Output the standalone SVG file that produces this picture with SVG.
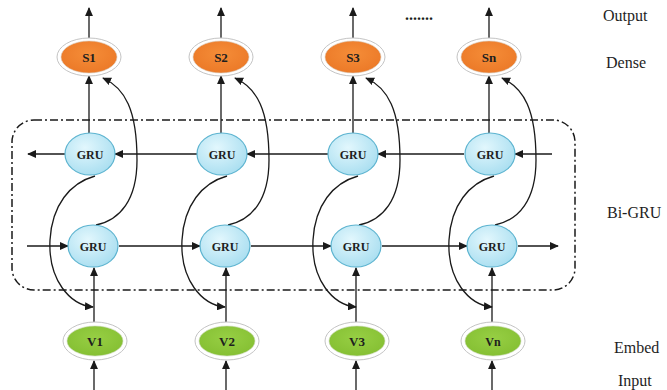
<svg xmlns="http://www.w3.org/2000/svg" width="667" height="390" viewBox="0 0 667 390">
  <defs>
    <marker id="ah" viewBox="0 0 10 10" refX="9" refY="5" markerWidth="9" markerHeight="8" markerUnits="userSpaceOnUse" orient="auto" preserveAspectRatio="none">
      <path d="M0,0 L10,5 L0,10 z" fill="#1a1a1a"/>
    </marker>
    <radialGradient id="gBlue" cx="0.4" cy="0.35" r="0.75">
      <stop offset="0" stop-color="#e2f7fd"/>
      <stop offset="1" stop-color="#a4dcef"/>
    </radialGradient>
    <radialGradient id="gOrange" cx="0.5" cy="0.4" r="0.7">
      <stop offset="0" stop-color="#f58d38"/>
      <stop offset="1" stop-color="#ea7625"/>
    </radialGradient>
    <radialGradient id="gGreen" cx="0.5" cy="0.4" r="0.7">
      <stop offset="0" stop-color="#97cf44"/>
      <stop offset="1" stop-color="#82bd30"/>
    </radialGradient>
  </defs>
  <style>
    .ln { stroke: #1a1a1a; stroke-width: 1.3; fill: none; }
    .arr { marker-end: url(#ah); }
    .halo { fill: #ffffff; stroke: #c4c4c4; stroke-width: 1; }
    .dense { fill: url(#gOrange); stroke: #d9c9b8; stroke-width: 0.6; }
    .embed { fill: url(#gGreen); stroke: #c9d6b5; stroke-width: 0.6; }
    .gru { fill: url(#gBlue); stroke: #5db4d0; stroke-width: 1.2; }
    .nt { font-family: "Liberation Serif", "Times New Roman", serif; font-weight: bold; fill: #1e1e1e; text-anchor: middle; }
    .side { font-family: "Liberation Serif", "Times New Roman", serif; font-size: 16px; fill: #1e1e1e; }
    .frame { fill: none; stroke: #1a1a1a; stroke-width: 1.5; stroke-dasharray: 8 3 2 3; }
  </style>

  <rect width="667" height="390" fill="#ffffff"/>

  <!-- Bi-GRU layer boundary -->
  <rect class="frame" x="12" y="120" width="563" height="170" rx="22" ry="22"/>

  <g id="connectors">
    <!-- outputs -->
    <line class="ln arr" x1="89" y1="38" x2="89" y2="8"/>
    <line class="ln arr" x1="221" y1="38" x2="221" y2="8"/>
    <line class="ln arr" x1="353" y1="38" x2="353" y2="8"/>
    <line class="ln arr" x1="489" y1="38" x2="489" y2="8"/>
    <!-- backward GRU to dense -->
    <line class="ln arr" x1="89" y1="133" x2="89" y2="76"/>
    <line class="ln arr" x1="221" y1="133" x2="221" y2="76"/>
    <line class="ln arr" x1="353" y1="133" x2="353" y2="76"/>
    <line class="ln arr" x1="489" y1="133" x2="489" y2="76"/>
    <!-- backward chain (right to left) -->
    <line class="ln arr" x1="65" y1="154" x2="28" y2="154"/>
    <line class="ln arr" x1="197" y1="154" x2="115" y2="154"/>
    <line class="ln arr" x1="328" y1="154" x2="247" y2="154"/>
    <line class="ln arr" x1="464" y1="154" x2="378" y2="154"/>
    <line class="ln arr" x1="552" y1="154" x2="515" y2="154"/>
    <!-- forward chain (left to right) -->
    <line class="ln arr" x1="27" y1="246" x2="68" y2="246"/>
    <line class="ln arr" x1="119" y1="246" x2="200" y2="246"/>
    <line class="ln arr" x1="251" y1="246" x2="331" y2="246"/>
    <line class="ln arr" x1="382" y1="246" x2="467" y2="246"/>
    <line class="ln arr" x1="518" y1="246" x2="558" y2="246"/>
    <!-- embed to forward GRU -->
    <line class="ln arr" x1="94" y1="322" x2="94" y2="268"/>
    <line class="ln arr" x1="226" y1="322" x2="226" y2="268"/>
    <line class="ln arr" x1="356" y1="322" x2="356" y2="268"/>
    <line class="ln arr" x1="492" y1="322" x2="492" y2="268"/>
    <!-- inputs -->
    <line class="ln arr" x1="94" y1="390" x2="94" y2="361"/>
    <line class="ln arr" x1="226" y1="390" x2="226" y2="361"/>
    <line class="ln arr" x1="356" y1="390" x2="356" y2="361"/>
    <line class="ln arr" x1="492" y1="390" x2="492" y2="361"/>
    <!-- cross links per time step -->
    <g id="links-1">
      <path class="ln arr" d="M95,176 C70,183 52,205 50,240 C48,280 70,305 93,307"/>
      <path class="ln arr" d="M96,225 C120,220 137,200 137,160 C137,110 125,88 103,78"/>
    </g>
    <g id="links-2" transform="translate(132,0)">
      <path class="ln arr" d="M95,176 C70,183 52,205 50,240 C48,280 70,305 93,307"/>
      <path class="ln arr" d="M96,225 C120,220 137,200 137,160 C137,110 125,88 103,78"/>
    </g>
    <g id="links-3" transform="translate(263,0)">
      <path class="ln arr" d="M95,176 C70,183 52,205 50,240 C48,280 70,305 93,307"/>
      <path class="ln arr" d="M96,225 C120,220 137,200 137,160 C137,110 125,88 103,78"/>
    </g>
    <g id="links-n" transform="translate(399,0)">
      <path class="ln arr" d="M95,176 C70,183 52,205 50,240 C48,280 70,305 93,307"/>
      <path class="ln arr" d="M96,225 C120,220 137,200 137,160 C137,110 125,88 103,78"/>
    </g>
  </g>

  <!-- dense nodes -->
  <g id="S1"><ellipse class="halo" cx="89" cy="57" rx="32" ry="19"/><ellipse class="dense" cx="89" cy="57" rx="28" ry="16"/><text class="nt" x="89" y="62" font-size="13">S1</text></g>
  <g id="S2"><ellipse class="halo" cx="221" cy="57" rx="32" ry="19"/><ellipse class="dense" cx="221" cy="57" rx="28" ry="16"/><text class="nt" x="221" y="62" font-size="13">S2</text></g>
  <g id="S3"><ellipse class="halo" cx="353" cy="57" rx="32" ry="19"/><ellipse class="dense" cx="353" cy="57" rx="28" ry="16"/><text class="nt" x="353" y="62" font-size="13">S3</text></g>
  <g id="Sn"><ellipse class="halo" cx="489" cy="57" rx="32" ry="19"/><ellipse class="dense" cx="489" cy="57" rx="28" ry="16"/><text class="nt" x="489" y="62" font-size="13">Sn</text></g>

  <!-- backward GRU cells -->
  <g id="gru-b1"><ellipse class="gru" cx="90" cy="154" rx="25" ry="21"/><text class="nt" x="90" y="158.5" font-size="12">GRU</text></g>
  <g id="gru-b2"><ellipse class="gru" cx="222" cy="154" rx="25" ry="21"/><text class="nt" x="222" y="158.5" font-size="12">GRU</text></g>
  <g id="gru-b3"><ellipse class="gru" cx="353" cy="154" rx="25" ry="21"/><text class="nt" x="353" y="158.5" font-size="12">GRU</text></g>
  <g id="gru-bn"><ellipse class="gru" cx="490" cy="154" rx="25" ry="21"/><text class="nt" x="490" y="158.5" font-size="12">GRU</text></g>

  <!-- forward GRU cells -->
  <g id="gru-f1"><ellipse class="gru" cx="93" cy="246" rx="25" ry="21"/><text class="nt" x="93" y="250.5" font-size="12">GRU</text></g>
  <g id="gru-f2"><ellipse class="gru" cx="225" cy="246" rx="25" ry="21"/><text class="nt" x="225" y="250.5" font-size="12">GRU</text></g>
  <g id="gru-f3"><ellipse class="gru" cx="356" cy="246" rx="25" ry="21"/><text class="nt" x="356" y="250.5" font-size="12">GRU</text></g>
  <g id="gru-fn"><ellipse class="gru" cx="492" cy="246" rx="25" ry="21"/><text class="nt" x="492" y="250.5" font-size="12">GRU</text></g>

  <!-- embedding nodes -->
  <g id="V1"><ellipse class="halo" cx="95" cy="341" rx="32" ry="19"/><ellipse class="embed" cx="95" cy="341" rx="28" ry="15"/><text class="nt" x="95" y="346" font-size="13">V1</text></g>
  <g id="V2"><ellipse class="halo" cx="227" cy="341" rx="32" ry="19"/><ellipse class="embed" cx="227" cy="341" rx="28" ry="15"/><text class="nt" x="227" y="346" font-size="13">V2</text></g>
  <g id="V3"><ellipse class="halo" cx="357" cy="341" rx="32" ry="19"/><ellipse class="embed" cx="357" cy="341" rx="28" ry="15"/><text class="nt" x="357" y="346" font-size="13">V3</text></g>
  <g id="Vn"><ellipse class="halo" cx="493" cy="341" rx="32" ry="19"/><ellipse class="embed" cx="493" cy="341" rx="28" ry="15"/><text class="nt" x="493" y="346" font-size="12">Vn</text></g>

  <!-- ellipsis between columns -->
  <text class="side" x="405" y="20" font-size="14" font-weight="bold" fill="#222222">.......</text>

  <!-- layer names -->
  <text class="side" x="603" y="21">Output</text>
  <text class="side" x="606" y="68">Dense</text>
  <text class="side" x="607" y="218">Bi-GRU</text>
  <text class="side" x="614" y="353">Embed</text>
  <text class="side" x="618" y="386">Input</text>
</svg>
